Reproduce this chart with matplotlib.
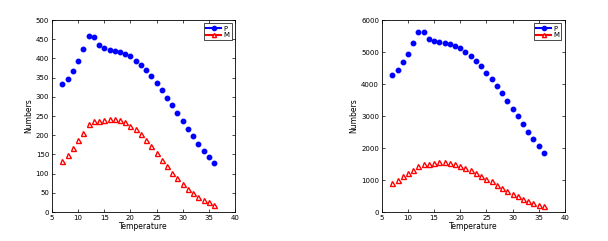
import matplotlib
matplotlib.use('Agg')
import matplotlib.pyplot as plt

temps = list(range(7, 37))

p_left = [333, 347, 368, 393, 425, 459, 456, 435, 426, 423, 420, 417, 412, 405, 394,
          383, 369, 354, 336, 317, 298, 278, 257, 237, 217, 198, 178, 160, 143, 127]
m_left = [133, 149, 167, 187, 207, 228, 237, 238, 240, 243, 243, 240, 234, 225, 215,
          202, 187, 171, 154, 136, 120, 103, 88, 74, 61, 49, 40, 32, 25, 19]

p_right = [4270, 4450, 4680, 4940, 5270, 5620, 5610, 5420, 5340, 5300, 5290, 5250, 5200, 5110, 5010,
           4870, 4730, 4560, 4360, 4160, 3940, 3720, 3480, 3230, 3000, 2760, 2510, 2290, 2070, 1850]
m_right = [920, 1010, 1120, 1220, 1320, 1430, 1490, 1500, 1530, 1550, 1550, 1520, 1490, 1440, 1390,
           1320, 1230, 1140, 1040, 960, 860, 750, 660, 570, 490, 410, 340, 280, 230, 180]

fig = plt.figure(figsize=(6.08, 2.41), dpi=100)
ax1 = fig.add_axes([0.0855, 0.12, 0.301, 0.797])
ax2 = fig.add_axes([0.628, 0.12, 0.301, 0.797])


def draw(ax, p, m, ymax, ystep):
    ax.plot(temps, p, linestyle='none', marker='o', color='#0000ff', markersize=3.2)
    ax.plot(temps, m, linestyle='none', marker='^', color='red', markerfacecolor='white',
            markeredgewidth=1.0, markersize=3.6)
    # legend proxies (MATLAB style line + marker)
    ax.plot([], [], '-o', color='#0000ff', markersize=3, label='P')
    ax.plot([], [], '-^', color='red', markerfacecolor='white', markersize=3, label='M')
    ax.set_xlim(5, 40)
    ax.set_ylim(0, ymax)
    ax.set_xticks(range(5, 41, 5))
    ax.set_yticks(range(0, ymax + 1, ystep))
    ax.tick_params(direction='in', top=True, right=True, labelsize=5, length=2, width=0.5, pad=2)
    for s in ax.spines.values():
        s.set_linewidth(0.6)
    ax.set_xlabel('Temperature', fontsize=5.5, labelpad=1)
    ax.set_ylabel('Numbers', fontsize=5.5, labelpad=2)
    leg = ax.legend(loc='upper right', fontsize=5, handlelength=2.2, borderpad=0.3,
                    labelspacing=0.1, handletextpad=0.3, fancybox=False, framealpha=1,
                    edgecolor='black')
    leg.get_frame().set_linewidth(0.5)


draw(ax1, p_left, m_left, 500, 50)
draw(ax2, p_right, m_right, 6000, 1000)

fig.savefig('out.png', dpi=100)
